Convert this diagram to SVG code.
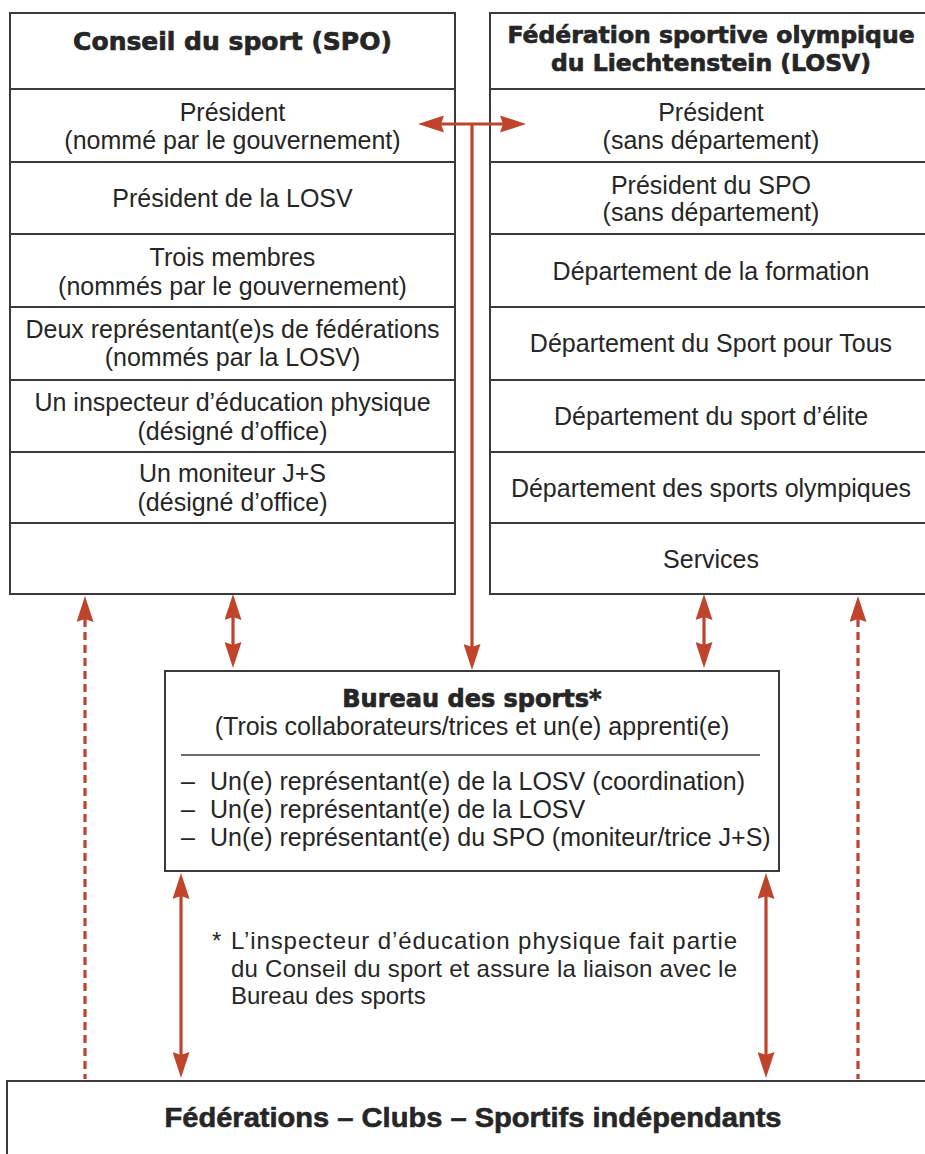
<svg xmlns="http://www.w3.org/2000/svg" width="925" height="1154" viewBox="0 0 925 1154">
<style>
  .box{fill:#fff;stroke:#3a3a3a;stroke-width:2}
  .div{stroke:#3a3a3a;stroke-width:2}
  .t{font-family:"Liberation Sans",Arial,sans-serif;font-size:25px;fill:#262626;text-anchor:middle}
  .tl{font-family:"Liberation Sans",Arial,sans-serif;font-size:25px;fill:#262626}
  .note{font-family:"Liberation Sans",Arial,sans-serif;font-size:24px;fill:#262626}
  .h{font-family:"DejaVu Sans",Verdana,sans-serif;font-weight:bold;font-size:25px;fill:#262626;stroke:#262626;stroke-width:0.7;text-anchor:middle}
  .hb{font-family:"Liberation Sans",Arial,sans-serif;font-weight:bold;font-size:28px;fill:#262626;stroke:#262626;stroke-width:0.6;text-anchor:middle}
  .arr{stroke:#c0432b;stroke-width:3.2;fill:none}
  .dash{stroke:#c0432b;stroke-width:3.2;fill:none;stroke-dasharray:8 5}
</style>
<defs>
  <marker id="ah" viewBox="0 0 26 17" refX="16" refY="8.5" markerWidth="26" markerHeight="17" orient="auto-start-reverse" markerUnits="userSpaceOnUse">
    <path d="M0,0 L26,8.5 L0,17 L3,8.5 Z" fill="#c0432b"/>
  </marker>
</defs>
<rect width="925" height="1154" fill="#fff"/>

<g id="spo">
  <rect class="box" x="10" y="13" width="445" height="581"/>
  <line class="div" x1="10" y1="89" x2="455" y2="89"/>
  <line class="div" x1="10" y1="162" x2="455" y2="162"/>
  <line class="div" x1="10" y1="234" x2="455" y2="234"/>
  <line class="div" x1="10" y1="307" x2="455" y2="307"/>
  <line class="div" x1="10" y1="380" x2="455" y2="380"/>
  <line class="div" x1="10" y1="452" x2="455" y2="452"/>
  <line class="div" x1="10" y1="523" x2="455" y2="523"/>
  <text class="h" x="232.5" y="50">Conseil du sport (SPO)</text>
  <text class="t" x="232.5" y="121">Président</text>
  <text class="t" x="232.5" y="149">(nommé par le gouvernement)</text>
  <text class="t" x="232.5" y="207">Président de la LOSV</text>
  <text class="t" x="232.5" y="266">Trois membres</text>
  <text class="t" x="232.5" y="295">(nommés par le gouvernement)</text>
  <text class="t" x="232.5" y="338">Deux représentant(e)s de fédérations</text>
  <text class="t" x="232.5" y="366">(nommés par la LOSV)</text>
  <text class="t" x="232.5" y="411">Un inspecteur d’éducation physique</text>
  <text class="t" x="232.5" y="440">(désigné d’office)</text>
  <text class="t" x="232.5" y="482">Un moniteur J+S</text>
  <text class="t" x="232.5" y="511">(désigné d’office)</text>
</g>

<g id="losv">
  <rect class="box" x="490" y="13" width="445" height="581"/>
  <line class="div" x1="490" y1="89" x2="935" y2="89"/>
  <line class="div" x1="490" y1="162" x2="935" y2="162"/>
  <line class="div" x1="490" y1="234" x2="935" y2="234"/>
  <line class="div" x1="490" y1="307" x2="935" y2="307"/>
  <line class="div" x1="490" y1="380" x2="935" y2="380"/>
  <line class="div" x1="490" y1="452" x2="935" y2="452"/>
  <line class="div" x1="490" y1="523" x2="935" y2="523"/>
  <text class="h" x="711" y="43" style="font-size:23.5px">Fédération sportive olympique</text>
  <text class="h" x="711" y="71" style="font-size:23.5px">du Liechtenstein (LOSV)</text>
  <text class="t" x="711" y="121">Président</text>
  <text class="t" x="711" y="149">(sans département)</text>
  <text class="t" x="711" y="194">Président du SPO</text>
  <text class="t" x="711" y="221">(sans département)</text>
  <text class="t" x="711" y="280">Département de la formation</text>
  <text class="t" x="711" y="352">Département du Sport pour Tous</text>
  <text class="t" x="711" y="425">Département du sport d’élite</text>
  <text class="t" x="711" y="497">Département des sports olympiques</text>
  <text class="t" x="711" y="568">Services</text>
</g>

<g id="bureau">
  <rect class="box" x="165" y="671" width="614" height="200"/>
  <text class="h" x="472" y="707" style="font-size:24px">Bureau des sports*</text>
  <text class="t" x="472" y="735">(Trois collaborateurs/trices et un(e) apprenti(e)</text>
  <line x1="181" y1="755" x2="760" y2="755" stroke="#3a3a3a" stroke-width="1.6"/>
  <text class="tl" x="181" y="790">–</text>
  <text class="tl" x="210" y="790">Un(e) représentant(e) de la LOSV (coordination)</text>
  <text class="tl" x="181" y="818">–</text>
  <text class="tl" x="210" y="818">Un(e) représentant(e) de la LOSV</text>
  <text class="tl" x="181" y="846">–</text>
  <text class="tl" x="210" y="846">Un(e) représentant(e) du SPO (moniteur/trice J+S)</text>
</g>

<g id="note">
  <text class="note" x="212" y="949">*</text>
  <text class="note" x="231" y="949" textLength="506" lengthAdjust="spacing">L’inspecteur d’éducation physique fait partie</text>
  <text class="note" x="231" y="977" textLength="506" lengthAdjust="spacing">du Conseil du sport et assure la liaison avec le</text>
  <text class="note" x="231" y="1004">Bureau des sports</text>
</g>

<g id="federations">
  <rect class="box" x="7" y="1081" width="940" height="120"/>
  <text class="hb" x="473" y="1127" textLength="617" lengthAdjust="spacingAndGlyphs">Fédérations – Clubs – Sportifs indépendants</text>
</g>

<g id="connectors">
  <line class="arr" x1="428" y1="124" x2="516" y2="124" marker-start="url(#ah)" marker-end="url(#ah)"/>
  <line class="arr" x1="472" y1="124" x2="472" y2="660" marker-end="url(#ah)"/>
  <line class="arr" x1="233" y1="604" x2="233" y2="658" marker-start="url(#ah)" marker-end="url(#ah)"/>
  <line class="arr" x1="704" y1="604" x2="704" y2="658" marker-start="url(#ah)" marker-end="url(#ah)"/>
  <line class="dash" x1="85" y1="606" x2="85" y2="1079" marker-start="url(#ah)"/>
  <line class="dash" x1="858" y1="606" x2="858" y2="1079" marker-start="url(#ah)"/>
  <line class="arr" x1="181" y1="883" x2="181" y2="1068" marker-start="url(#ah)" marker-end="url(#ah)"/>
  <line class="arr" x1="766" y1="883" x2="766" y2="1068" marker-start="url(#ah)" marker-end="url(#ah)"/>
</g>
</svg>
